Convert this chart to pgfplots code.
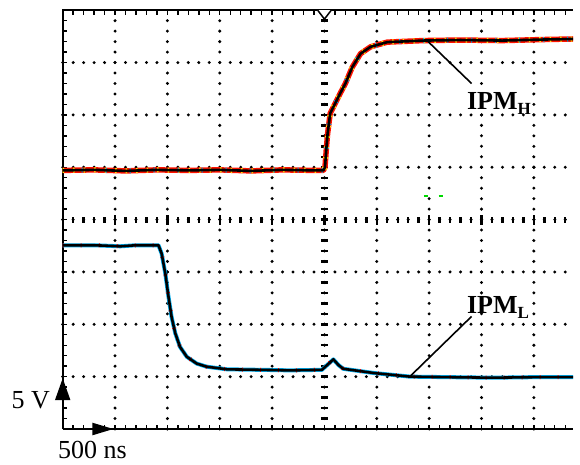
\documentclass[border=0pt]{standalone}
\usepackage{fontspec}
\setmainfont{Liberation Serif}
\usepackage{pgfplots}
\pgfplotsset{compat=1.18}
\usetikzlibrary{arrows.meta}

% traces in screen divisions (x: 500 ns/div, y: 5 V/div)
\pgfplotstableread{
x y
0.00 4.94
0.60 4.95
1.20 4.93
1.80 4.95
2.40 4.94
3.00 4.95
3.60 4.93
4.20 4.95
4.80 4.94
4.98 4.94
5.01 5.00
5.04 5.40
5.06 5.64
5.11 6.03
5.17 6.15
5.30 6.41
5.40 6.60
5.53 6.91
5.69 7.17
5.88 7.30
6.20 7.39
6.89 7.42
7.60 7.43
8.40 7.42
9.20 7.44
9.75 7.45
}\ipmH

\pgfplotstableread{
x y
0.00 3.51
0.60 3.51
1.10 3.49
1.40 3.51
1.83 3.51
1.89 3.35
1.96 2.97
2.02 2.53
2.08 2.14
2.15 1.83
2.24 1.57
2.37 1.38
2.56 1.25
2.75 1.19
3.14 1.14
3.80 1.13
4.34 1.12
4.95 1.13
5.05 1.22
5.17 1.33
5.27 1.22
5.36 1.15
5.94 1.07
6.64 1.00
7.40 0.99
8.20 0.98
9.00 0.99
9.75 0.99
}\ipmL

\begin{document}
\begin{tikzpicture}
\useasboundingbox (-62.7pt,-35pt) rectangle (517.3pt,429pt);

\begin{scope}[x=52.35pt,y=52.35pt]
% screen frame (no right edge, it is cut off)
\draw[line width=2pt] (0,0) -- (0,8) -- (9.75,8);
\draw[line width=2pt] (0,0) -- (9.75,0);
\foreach \i in {1,...,39} \draw[line width=1.4pt] (0,\i/5) -- ++(4.5pt,0);
\foreach \i in {1,...,48} {
  \draw[line width=1.4pt] (\i/5,8) -- ++(0,-4.5pt);
  \draw[line width=1.4pt] (\i/5,0) -- ++(0,4.5pt);
}
% centre graticule lines with small marks
\foreach \i in {1,...,39} \draw[line width=2.4pt] (5,\i/5) ++(-3.5pt,0) -- ++(7pt,0);
\foreach \i in {1,...,48} \draw[line width=2.4pt] (\i/5,4) ++(0,-3pt) -- ++(0,6pt);
\foreach \i in {1,...,9} \draw[line width=2.4pt] (\i,4) ++(0,-5pt) -- ++(0,10pt);
% trigger marker
\draw[line width=1.5pt, fill=white] (4.87,8) -- (5.0,7.83) -- (5.13,8);
% stray green dashes
\draw[line width=1.4pt, green!85!black] (6.90,4.45) -- (6.97,4.45) (7.18,4.45) -- (7.27,4.45);
% scale arrows
\draw[line width=2pt, -{Triangle[length=22pt,width=15pt]}] (0,0) -- (0,0.97);
\draw[line width=2pt, -{Triangle[length=21pt,width=12pt]}] (0,0) -- (0.97,0);
\end{scope}

\begin{axis}[
    at={(0,0)}, anchor=origin,
    x=52.35pt, y=52.35pt,
    xmin=0, xmax=9.75, ymin=0, ymax=8,
    axis line style={draw=none},
    tick style={draw=none},
    xtick={1,...,9}, ytick={1,...,7},
    xticklabels={}, yticklabels={},
    grid=major,
    major grid style={black, line width=3.3pt, line cap=round,
        dash pattern=on 0pt off 10.47pt},
    clip=false,
    every axis plot/.append style={no markers, sharp plot, line join=round},
]
% IPM_H
\addplot[line width=5.5pt, red!85!orange] table {\ipmH};
\addplot[line width=5pt, yellow!90!orange, dash pattern=on 1.5pt off 9pt] table {\ipmH};
\addplot[line width=5pt, cyan, dash pattern=on 1pt off 23pt, dash phase=5pt] table {\ipmH};
\addplot[line width=2.6pt, black] table {\ipmH};
% IPM_L
\addplot[line width=4pt, cyan] table {\ipmL};
\addplot[line width=4pt, red, dash pattern=on 1pt off 17pt] table {\ipmL};
\addplot[line width=2.6pt, black] table {\ipmL};

% labels and pointers
\draw[line width=1.6pt] (axis cs:6.98,7.40) -- (axis cs:7.81,6.60);
\draw[line width=1.6pt] (axis cs:7.81,2.15) -- (axis cs:6.63,1.00);
\node[anchor=base west, inner sep=0pt, font=\fontsize{26}{30}\selectfont\bfseries]
  at (axis cs:7.72,6.11) {IPM\raisebox{-5pt}{\fontsize{17}{19}\selectfont H}};
\node[anchor=base west, inner sep=0pt, font=\fontsize{26}{30}\selectfont\bfseries]
  at (axis cs:7.72,2.21) {IPM\raisebox{-5pt}{\fontsize{17}{19}\selectfont L}};
\node[anchor=base east, inner sep=0pt, font=\fontsize{26}{30}\selectfont]
  at (axis cs:-0.24,0.40) {5 V};
\node[anchor=base west, inner sep=0pt, font=\fontsize{26}{30}\selectfont]
  at (axis cs:-0.09,-0.57) {500 ns};
\end{axis}
\end{tikzpicture}
\end{document}
